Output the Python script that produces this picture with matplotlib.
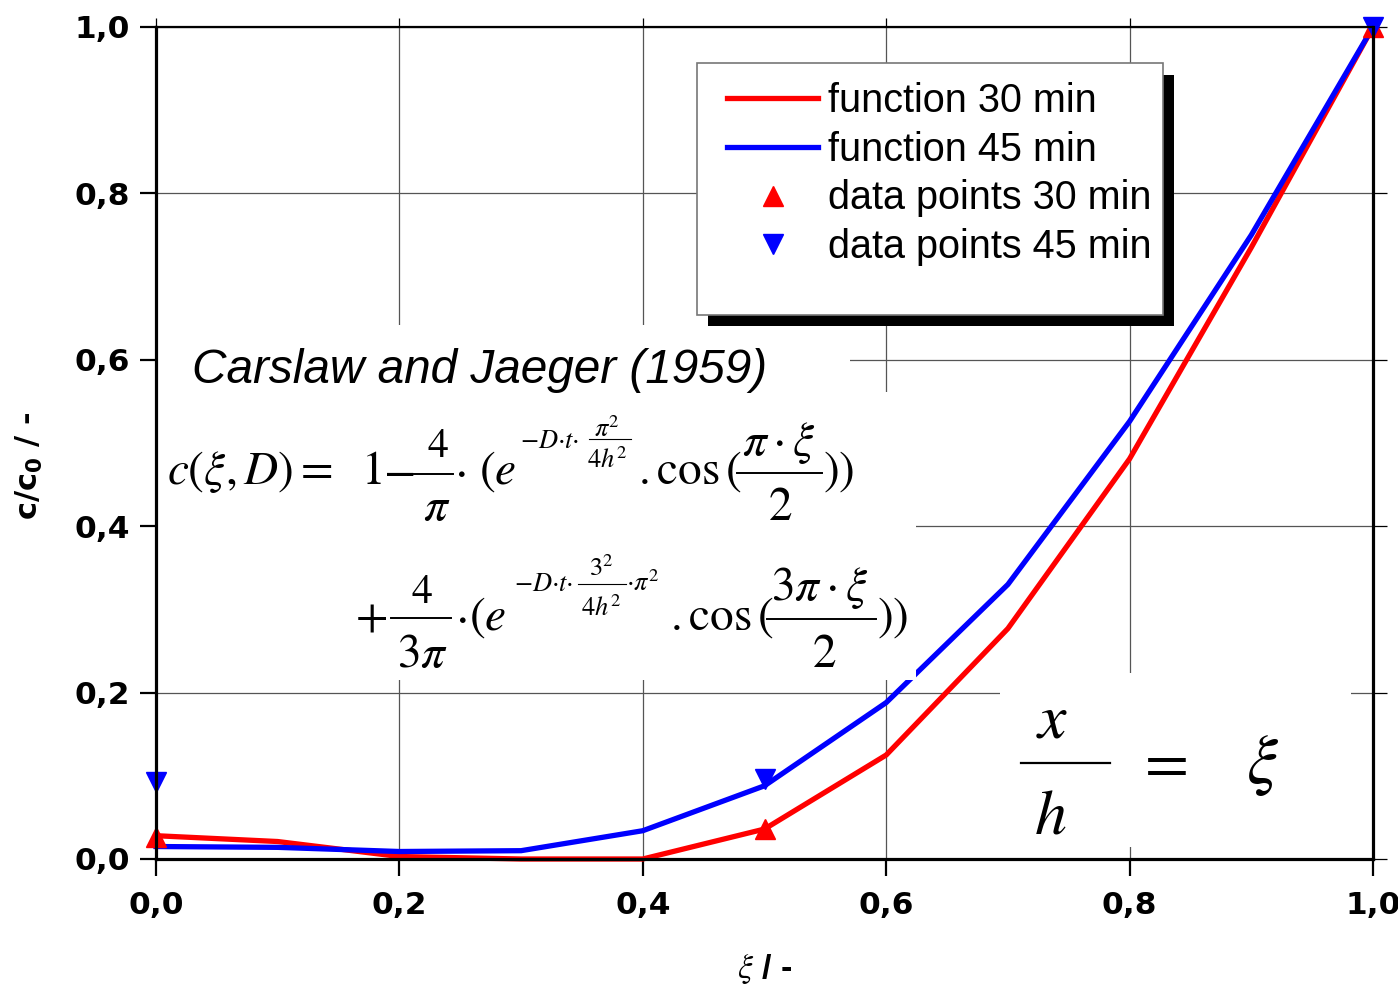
import matplotlib
matplotlib.use('Agg')
import matplotlib.pyplot as plt
from matplotlib.patches import Rectangle
from matplotlib.lines import Line2D

# ---------------- data ----------------
xi = [0.0, 0.1, 0.2, 0.3, 0.4, 0.5, 0.6, 0.7, 0.8, 0.9, 1.0]
func_30 = [0.028, 0.021, 0.003, 0.0, 0.0, 0.036, 0.125, 0.277, 0.481, 0.735, 1.0]
func_45 = [0.015, 0.014, 0.009, 0.010, 0.034, 0.088, 0.188, 0.330, 0.526, 0.750, 1.0]
data_x = [0.0, 0.5, 1.0]
data_30 = [0.026, 0.036, 1.0]
data_45 = [0.0925, 0.096, 1.0]
ticks = [0.0, 0.2, 0.4, 0.6, 0.8, 1.0]
tick_labels = ['0,0', '0,2', '0,4', '0,6', '0,8', '1,0']
legend_labels = ['function 30 min', 'function 45 min',
                 'data points 30 min', 'data points 45 min']

W, H = 1398, 993
AX_L, AX_R, AX_T, AX_B = 156, 1373, 27, 859


def fx(px):
    return px / W


def fy(py):
    return 1 - py / H


def ax_x(px):
    return (px - AX_L) / (AX_R - AX_L)


def ax_y(py):
    return (AX_B - py) / (AX_B - AX_T)


fig = plt.figure(figsize=(W / 100, H / 100), dpi=100)
fig.patch.set_facecolor('white')
ax = fig.add_axes([fx(AX_L), fy(AX_B), (AX_R - AX_L) / W, (AX_B - AX_T) / H])

ax.plot(xi, func_30, color='#ff0000', lw=3.8, zorder=2, clip_on=False,
        solid_joinstyle='miter')
ax.plot(xi, func_45, color='#0000ff', lw=3.8, zorder=2.1, clip_on=False,
        solid_joinstyle='miter')
ax.plot(data_x, data_30, ls='none', marker='^', ms=15, color='#ff0000',
        zorder=2.5, clip_on=False)
ax.plot(data_x, data_45, ls='none', marker='v', ms=15, color='#0000ff',
        zorder=2.6, clip_on=False)

ax.set_xlim(0, 1)
ax.set_ylim(0, 1)
ax.set_xticks(ticks)
ax.set_yticks(ticks)
ax.set_xticklabels(tick_labels)
ax.set_yticklabels(tick_labels)
ax.set_axisbelow(True)
ax.grid(True, color='#555555', lw=0.9)

for s in ['left', 'right', 'bottom', 'top']:
    ax.spines[s].set_linewidth(2.3)
    ax.spines[s].set_color('black')
    ax.spines[s].set_zorder(6)
ax.spines['top'].set_linewidth(1.6)

ax.tick_params(axis='both', direction='out', top=True, right=True,
               labelsize=22.5, width=1.6, color='black')
ax.tick_params(axis='y', length=11.5, pad=7)
ax.tick_params(axis='x', length=12.5, pad=10.5)
for lab in ax.get_xticklabels() + ax.get_yticklabels():
    lab.set_fontfamily('DejaVu Sans')
    lab.set_fontweight('bold')
for t in ax.yaxis.get_major_ticks():
    t.tick2line.set_markersize(10)
    t.tick2line.set_color('#555555')
    t.tick2line.set_markeredgewidth(0.9)
for t in ax.xaxis.get_major_ticks():
    t.tick2line.set_markersize(6.5)
    t.tick2line.set_color('#555555')
    t.tick2line.set_markeredgewidth(0.9)

# white boxes behind the annotations
boxes = [(158, 325, 850, 392), (158, 392, 916, 680), (1000, 673, 1351, 847)]
for (x0, y0, x1, y1) in boxes:
    ax.add_patch(Rectangle((ax_x(x0), ax_y(y1)), ax_x(x1) - ax_x(x0),
                           ax_y(y0) - ax_y(y1), transform=ax.transAxes,
                           facecolor='white', edgecolor='none', zorder=3.5))

# legend box with shadow
ax.add_patch(Rectangle((ax_x(708), ax_y(326)), ax_x(1174) - ax_x(708),
                       ax_y(75) - ax_y(326), transform=ax.transAxes,
                       facecolor='black', edgecolor='none', zorder=4.4))
ax.add_patch(Rectangle((ax_x(697), ax_y(315)), ax_x(1163) - ax_x(697),
                       ax_y(63) - ax_y(315), transform=ax.transAxes,
                       facecolor='white', edgecolor='#777777', lw=1.2,
                       zorder=4.5))
handles = [Line2D([], [], color='#ff0000', lw=3.8),
           Line2D([], [], color='#0000ff', lw=3.8),
           Line2D([], [], ls='none', marker='^', ms=15, color='#ff0000'),
           Line2D([], [], ls='none', marker='v', ms=15, color='#0000ff')]
leg = ax.legend(handles, legend_labels, loc='upper left',
                bbox_to_anchor=(ax_x(727), ax_y(82)), frameon=False,
                prop={'family': 'Liberation Sans', 'size': 28.5},
                handlelength=2.3, handletextpad=0.25, labelspacing=0.27,
                borderpad=0, borderaxespad=0)
leg.set_zorder(5)

# axis labels
fig.text(fx(29), fy(466), r'c/c$_{\mathregular{0}}$ / -', rotation=90,
         ha='center', va='center', fontsize=22, fontweight='bold',
         family='DejaVu Sans')
fig.text(fx(765), fy(969), r'$\xi$ / -', ha='center', va='center',
         fontsize=24.5, fontweight='bold', family='Liberation Sans',
         math_fontfamily='stix')

# annotations
fig.text(fx(192), fy(383), 'Carslaw and Jaeger (1959)', ha='left',
         va='baseline', fontsize=34.4, style='italic',
         family='Liberation Sans')


def T(x, y, s, size, ha='left'):
    fig.text(fx(x), fy(y), s, fontsize=size, ha=ha, va='baseline',
             math_fontfamily='stix', family='STIXGeneral')


def bar(x0, x1, y, lw=1.4):
    fig.add_artist(Line2D([fx(x0), fx(x1)], [fy(y), fy(y)],
                          color='black', lw=lw))


BIG, NUM, EXP = 34, 30, 19

# line 1 of the formula
T(167, 484, r'$c(\xi,D) =$', BIG)
T(361, 484, r'$1$', BIG)
T(383, 484, r'$-$', BIG)
T(438, 457, r'$4$', NUM, ha='center')
bar(414, 453, 474)
T(437, 520, r'$\pi$', BIG, ha='center')
T(460, 484, r'$\cdot$', BIG, ha='center')
T(479, 484, r'$(e$', BIG)
T(520, 448, r'$-D{\cdot}t{\cdot}$', EXP)
T(607, 437, r'$\pi^2$', EXP, ha='center')
bar(589, 631, 439, lw=0.8)
T(607, 468, r'$4h^2$', EXP, ha='center')
T(638, 484, r'$.\mathrm{cos}\,($', BIG)
T(779, 455, r'$\pi\cdot\xi$', BIG, ha='center')
bar(737, 822, 473)
T(780, 520, r'$2$', BIG, ha='center')
T(823, 484, r'$))$', BIG)

# line 2 of the formula
T(355, 630, r'$+$', BIG)
T(422, 603, r'$4$', NUM, ha='center')
bar(391, 451, 618)
T(422, 667, r'$3\pi$', BIG, ha='center')
T(461, 630, r'$\cdot$', BIG, ha='center')
T(469, 630, r'$(e$', BIG)
T(514, 591, r'$-D{\cdot}t{\cdot}$', EXP)
T(601, 576, r'$3^2$', EXP, ha='center')
bar(578, 626, 584, lw=0.8)
T(601, 616, r'$4h^2$', EXP, ha='center')
T(626, 591, r'${\cdot}\pi^2$', EXP)
T(670, 630, r'$.\mathrm{cos}\,($', BIG)
T(820, 600, r'$3\pi\cdot\xi$', BIG, ha='center')
bar(767, 876, 619)
T(824, 667, r'$2$', BIG, ha='center')
T(877, 630, r'$))$', BIG)

# x/h = xi
T(1052, 738, r'$x$', 46, ha='center')
T(1050, 833, r'$h$', 46, ha='center')
bar(1021, 1110, 763, lw=1.6)
fig.text(fx(1161), fy(763), r'$=$', ha='center', va='center', fontsize=46,
         math_fontfamily='stix')
fig.text(fx(1262), fy(764), r'$\xi$', ha='center', va='center', fontsize=50,
         math_fontfamily='stix')

fig.savefig('out.png', dpi=100, facecolor='white')
